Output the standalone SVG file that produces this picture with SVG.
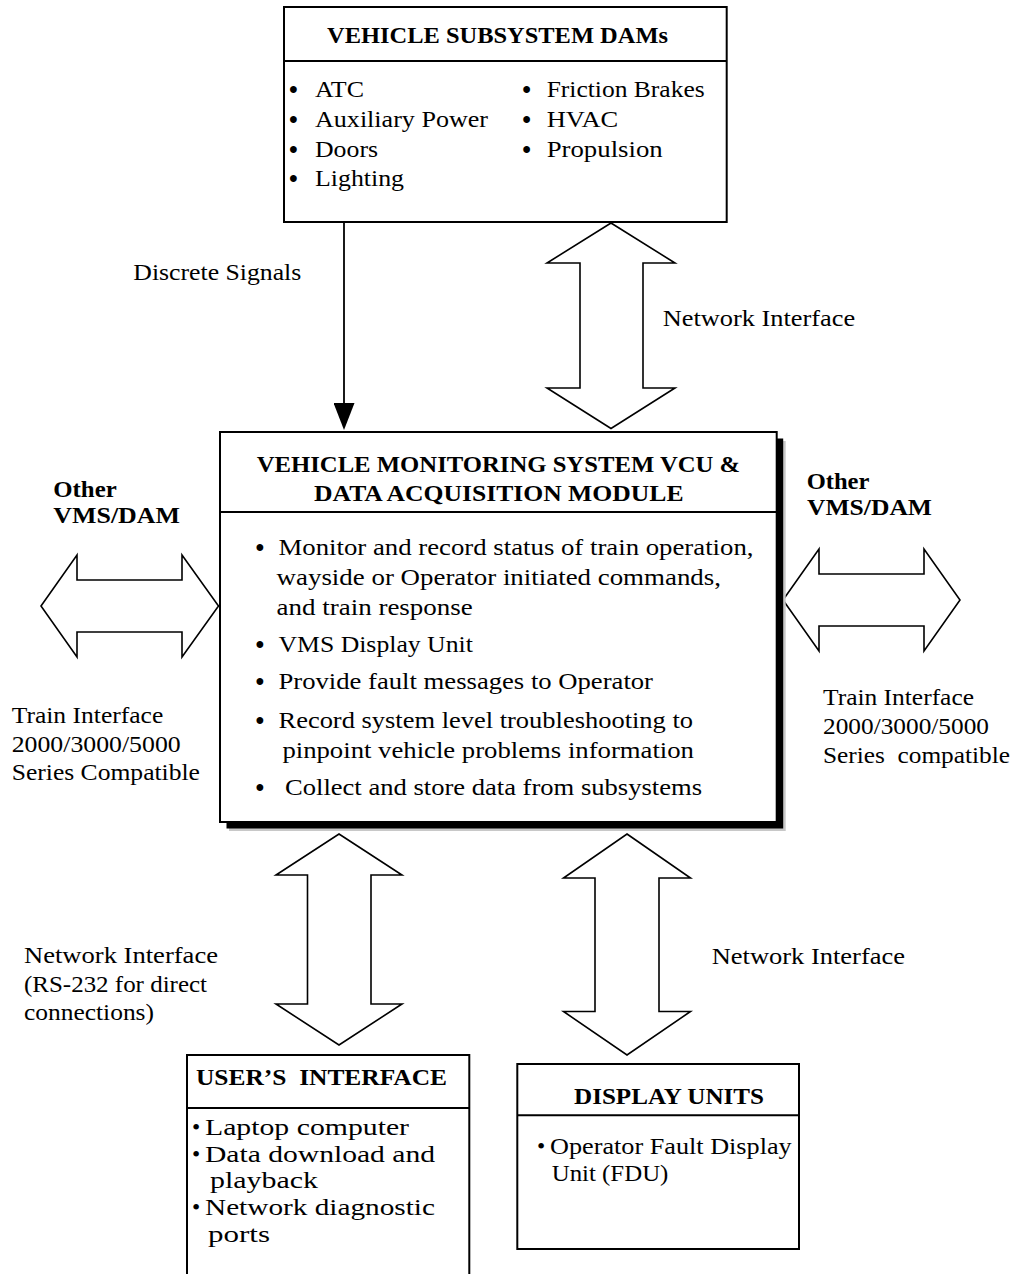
<svg xmlns="http://www.w3.org/2000/svg" width="1018" height="1274" viewBox="0 0 1018 1274">
<style>
text { font-family: "Liberation Serif", "Times New Roman", serif; fill: #000; }
.t { font-size: 23.5px; }
.bul { font-size: 25px; font-weight: bold; }
.b { font-size: 24px; font-weight: bold; }
.box { fill: #fff; stroke: #000; stroke-width: 2; }
.div { stroke: #000; stroke-width: 2; fill: none; }
.dbl { fill: #fff; stroke: #000; stroke-width: 1.6; stroke-linejoin: miter; }
.line { stroke: #000; stroke-width: 1.8; fill: none; }
</style>
<defs>
<marker id="ah" viewBox="0 0 27 21" refX="0" refY="10.5" markerWidth="27" markerHeight="21" markerUnits="userSpaceOnUse" orient="auto">
<path d="M0,0 L27,10.5 L0,21 Z" fill="#000"/>
</marker>
</defs>
<rect width="1018" height="1274" fill="#fff"/>

<g id="connectors">
<line class="line" x1="344" y1="222" x2="344" y2="403" marker-end="url(#ah)"/>
<polygon id="net-top" class="dbl" points="611,223 675,263 643,263 643,388 675,388 611,428.5 547,388 580,388 580,263 547,263"/>
<polygon id="net-left" class="dbl" points="41,606 77,555 77,580 182,580 182,555 218.5,606 182,657 182,632 77,632 77,657"/>
<polygon id="net-right" class="dbl" points="783,600 819,549 819,574 924,574 924,549 960,600 924,651 924,626 819,626 819,651"/>
<polygon id="net-user" class="dbl" points="339,834 402,875 371,875 371,1004 402,1004 339,1045 276,1004 307.5,1004 307.5,875 276,875"/>
<polygon id="net-display" class="dbl" points="627,834 690.5,878 659,878 659,1011.5 690.5,1011.5 627,1055 563.5,1011.5 595,1011.5 595,878 563.5,878"/>
<text class="t" x="133.3" y="280" textLength="168" lengthAdjust="spacingAndGlyphs">Discrete Signals</text>
<text class="t" x="662.7" y="326" textLength="192.5" lengthAdjust="spacingAndGlyphs">Network Interface</text>
<text class="t" x="24" y="963" textLength="194" lengthAdjust="spacingAndGlyphs">Network Interface</text>
<text class="t" x="24" y="991.7" textLength="183" lengthAdjust="spacingAndGlyphs">(RS-232 for direct</text>
<text class="t" x="24" y="1020" textLength="130" lengthAdjust="spacingAndGlyphs">connections)</text>
<text class="t" x="711.7" y="964" textLength="193.3" lengthAdjust="spacingAndGlyphs">Network Interface</text>
</g>

<g id="vehicle-subsystem-dams">
<rect class="box" x="284" y="7" width="442.7" height="215"/>
<line class="div" x1="284" y1="61" x2="726.7" y2="61"/>
<text class="b" x="327" y="43.3" textLength="341" lengthAdjust="spacingAndGlyphs">VEHICLE SUBSYSTEM DAMs</text>
<text class="bul" x="293.3" y="98" text-anchor="middle">•</text>
<text class="t" x="315" y="97" textLength="49" lengthAdjust="spacingAndGlyphs">ATC</text>
<text class="bul" x="293.3" y="128" text-anchor="middle">•</text>
<text class="t" x="315" y="127" textLength="173" lengthAdjust="spacingAndGlyphs">Auxiliary Power</text>
<text class="bul" x="293.3" y="158" text-anchor="middle">•</text>
<text class="t" x="315" y="157" textLength="63" lengthAdjust="spacingAndGlyphs">Doors</text>
<text class="bul" x="293.3" y="187" text-anchor="middle">•</text>
<text class="t" x="315" y="186" textLength="89" lengthAdjust="spacingAndGlyphs">Lighting</text>
<text class="bul" x="526.7" y="98" text-anchor="middle">•</text>
<text class="t" x="546.7" y="97" textLength="158" lengthAdjust="spacingAndGlyphs">Friction Brakes</text>
<text class="bul" x="526.7" y="128" text-anchor="middle">•</text>
<text class="t" x="546.7" y="127" textLength="71.6" lengthAdjust="spacingAndGlyphs">HVAC</text>
<text class="bul" x="526.7" y="158" text-anchor="middle">•</text>
<text class="t" x="546.7" y="157" textLength="116" lengthAdjust="spacingAndGlyphs">Propulsion</text>
</g>

<g id="vms-vcu-dam">
<rect x="229" y="441" width="556.7" height="390" fill="#c8c8c8"/>
<rect x="226.5" y="438.5" width="556.7" height="390" fill="#000"/>
<rect class="box" x="220" y="432" width="556.7" height="390"/>
<line class="div" x1="220" y1="512" x2="776.7" y2="512"/>
<text class="b" x="256.7" y="472" textLength="483.5" lengthAdjust="spacingAndGlyphs">VEHICLE MONITORING SYSTEM VCU &amp;</text>
<text class="b" x="314" y="501" textLength="369.5" lengthAdjust="spacingAndGlyphs">DATA ACQUISITION MODULE</text>
<text class="bul" x="260" y="556" text-anchor="middle">•</text>
<text class="t" x="278.5" y="555" textLength="475" lengthAdjust="spacingAndGlyphs">Monitor and record status of train operation,</text>
<text class="t" x="276.6" y="585" textLength="444.4" lengthAdjust="spacingAndGlyphs">wayside or Operator initiated commands,</text>
<text class="t" x="276.6" y="615" textLength="196.2" lengthAdjust="spacingAndGlyphs">and train response</text>
<text class="bul" x="260" y="653" text-anchor="middle">•</text>
<text class="t" x="278.5" y="652" textLength="194.3" lengthAdjust="spacingAndGlyphs">VMS Display Unit</text>
<text class="bul" x="260" y="690" text-anchor="middle">•</text>
<text class="t" x="278.5" y="689" textLength="374.5" lengthAdjust="spacingAndGlyphs">Provide fault messages to Operator</text>
<text class="bul" x="260" y="729" text-anchor="middle">•</text>
<text class="t" x="278.5" y="728" textLength="414.5" lengthAdjust="spacingAndGlyphs">Record system level troubleshooting to</text>
<text class="t" x="282.4" y="758" textLength="411.6" lengthAdjust="spacingAndGlyphs">pinpoint vehicle problems information</text>
<text class="bul" x="260" y="796" text-anchor="middle">•</text>
<text class="t" x="285" y="795" textLength="417" lengthAdjust="spacingAndGlyphs">Collect and store data from subsystems</text>
</g>

<g id="other-vms-dam-left">
<text class="b" x="53.3" y="496.7" textLength="63.4" lengthAdjust="spacingAndGlyphs">Other</text>
<text class="b" x="53.3" y="523" textLength="126.7" lengthAdjust="spacingAndGlyphs">VMS/DAM</text>
</g>
<g id="other-vms-dam-right">
<text class="b" x="806.7" y="489" textLength="62.7" lengthAdjust="spacingAndGlyphs">Other</text>
<text class="b" x="807" y="515" textLength="125" lengthAdjust="spacingAndGlyphs">VMS/DAM</text>
</g>

<g id="train-interface-left">
<text class="t" x="11.7" y="722.7" textLength="151.6" lengthAdjust="spacingAndGlyphs">Train Interface</text>
<text class="t" x="11.7" y="751.7" textLength="169" lengthAdjust="spacingAndGlyphs">2000/3000/5000</text>
<text class="t" x="11.7" y="780" textLength="188.3" lengthAdjust="spacingAndGlyphs">Series Compatible</text>
</g>
<g id="train-interface-right">
<text class="t" x="823" y="705" textLength="151" lengthAdjust="spacingAndGlyphs">Train Interface</text>
<text class="t" x="823" y="734" textLength="166" lengthAdjust="spacingAndGlyphs">2000/3000/5000</text>
<text class="t" x="823" y="763" textLength="187" lengthAdjust="spacingAndGlyphs" xml:space="preserve">Series  compatible</text>
</g>

<g id="users-interface">
<path class="box" d="M187,1280 V1055 H469.3 V1280"/>
<line class="div" x1="187" y1="1108" x2="469.3" y2="1108"/>
<text class="b" x="196" y="1085" textLength="251" lengthAdjust="spacingAndGlyphs" xml:space="preserve">USER’S  INTERFACE</text>
<text class="t" x="196" y="1135" text-anchor="middle">•</text>
<text class="t" x="205" y="1135" textLength="204" lengthAdjust="spacingAndGlyphs">Laptop computer</text>
<text class="t" x="196" y="1162" text-anchor="middle">•</text>
<text class="t" x="205" y="1162" textLength="230" lengthAdjust="spacingAndGlyphs">Data download and</text>
<text class="t" x="210" y="1188" textLength="108" lengthAdjust="spacingAndGlyphs">playback</text>
<text class="t" x="196" y="1215" text-anchor="middle">•</text>
<text class="t" x="205" y="1215" textLength="230" lengthAdjust="spacingAndGlyphs">Network diagnostic</text>
<text class="t" x="208" y="1242" textLength="62" lengthAdjust="spacingAndGlyphs">ports</text>
</g>

<g id="display-units">
<rect class="box" x="517.3" y="1064" width="281.7" height="185"/>
<line class="div" x1="517.3" y1="1115.3" x2="799" y2="1115.3"/>
<text class="b" x="574" y="1104" textLength="190" lengthAdjust="spacingAndGlyphs">DISPLAY UNITS</text>
<text class="t" x="541" y="1154" text-anchor="middle">•</text>
<text class="t" x="550" y="1154" textLength="241.7" lengthAdjust="spacingAndGlyphs">Operator Fault Display</text>
<text class="t" x="551.7" y="1181" textLength="116.7" lengthAdjust="spacingAndGlyphs">Unit (FDU)</text>
</g>
</svg>
